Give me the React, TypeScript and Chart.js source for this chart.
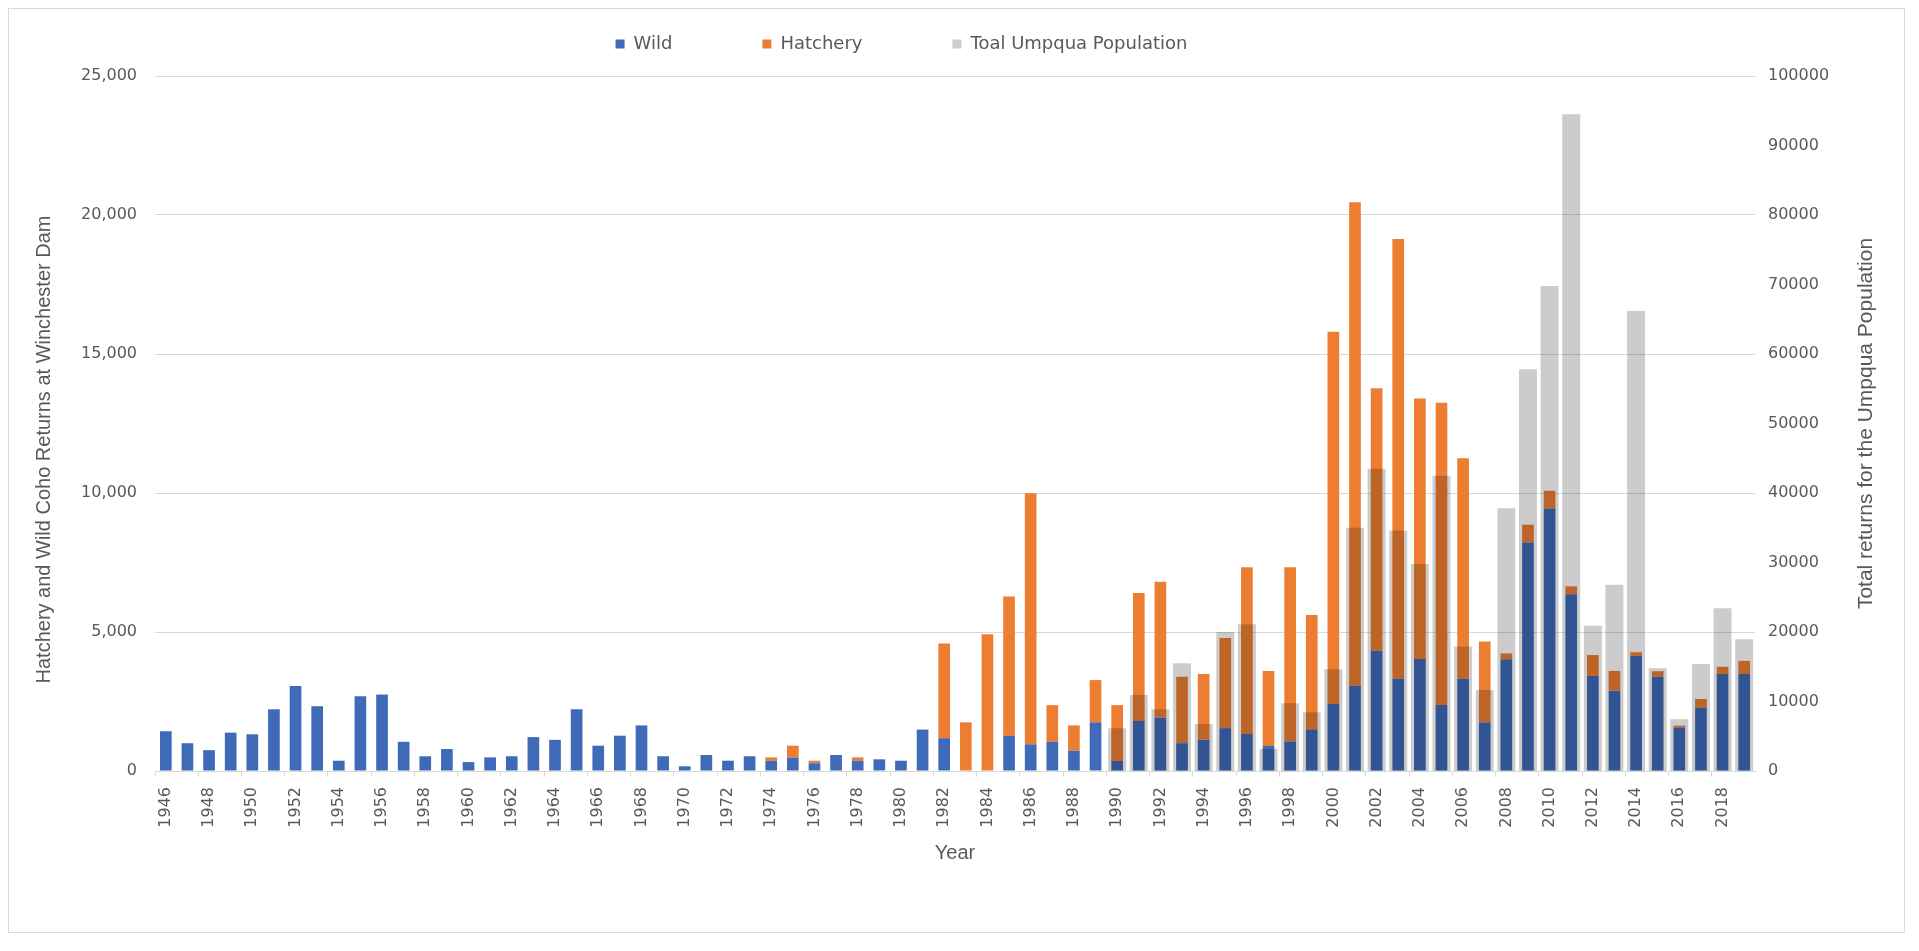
import React, { useEffect, useRef } from 'react';
import { Chart, registerables } from 'chart.js';

Chart.register(...registerables);

const years = [
  '1946', '1947', '1948', '1949', '1950', '1951', '1952', '1953', '1954', '1955',
  '1956', '1957', '1958', '1959', '1960', '1961', '1962', '1963', '1964', '1965',
  '1966', '1967', '1968', '1969', '1970', '1971', '1972', '1973', '1974', '1975',
  '1976', '1977', '1978', '1979', '1980', '1981', '1982', '1983', '1984', '1985',
  '1986', '1987', '1988', '1989', '1990', '1991', '1992', '1993', '1994', '1995',
  '1996', '1997', '1998', '1999', '2000', '2001', '2002', '2003', '2004', '2005',
  '2006', '2007', '2008', '2009', '2010', '2011', '2012', '2013', '2014', '2015',
  '2016', '2017', '2018', '2019',
];

const wild = [
  1430, 1000, 750, 1380, 1320, 2220, 3060, 2330, 370, 2690,
  2750, 1050, 530, 790, 320, 490, 530, 1220, 1120, 2220,
  910, 1270, 1640, 530, 170, 575, 370, 530, 370, 480,
  280, 575, 370, 420, 370, 1490, 1180, 0, 0, 1270,
  960, 1050, 730, 1750, 360, 1800, 1920, 1000, 1120, 1540,
  1330, 900, 1060, 1500, 2410, 3070, 4330, 3330, 4030, 2370,
  3320, 1750, 4020, 8220, 9440, 6360, 3420, 2890, 4140, 3390,
  1560, 2280, 3490, 3490,
];

const hatchery = [
  0, 0, 0, 0, 0, 0, 0, 0, 0, 0,
  0, 0, 0, 0, 0, 0, 0, 0, 0, 0,
  0, 0, 0, 0, 0, 0, 0, 0, 120, 430,
  90, 0, 120, 0, 0, 0, 3410, 1750, 4920, 5010,
  9030, 1320, 910, 1520, 2010, 4600, 4890, 2390, 2370, 3240,
  6000, 2700, 6270, 4110, 13390, 17390, 9440, 15810, 9370, 10880,
  7930, 2910, 210, 640, 640, 280, 750, 710, 130, 200,
  70, 310, 260, 470,
];

const totalUmpqua = [
  null, null, null, null, null, null, null, null, null, null,
  null, null, null, null, null, null, null, null, null, null,
  null, null, null, null, null, null, null, null, null, null,
  null, null, null, null, null, null, null, null, null, null,
  null, null, null, null, 6150, 10940, 8880, 15500, 6760, 20000,
  21100, 3170, 9740, 8440, 14630, 35000, 43500, 34600, 29800, 42500,
  17900, 11660, 37800, 57800, 69800, 94500, 20900, 26800, 66200, 14800,
  7440, 15400, 23400, 18950,
];

const seriesNames = ['Wild', 'Hatchery', 'Toal Umpqua Population'];
const leftTitle = 'Hatchery and Wild Coho Returns at Winchester Dam';
const rightTitle = 'Total returns for the Umpqua Population';
const xTitle = 'Year';

const TEXT = '#595959';
const GRID = '#d9d9d9';
const TICK_FONT = 'DejaVu Sans';
const TITLE_FONT = 'Liberation Sans';

const legendFitPlugin = {
  id: 'legendFit',
  afterInit(chart: any) {
    const lg = chart.legend;
    if (!lg || lg._patched) return;
    const orig = lg.fit;
    lg.fit = function () {
      orig.call(this);
      this.height += 13;
    };
    lg._patched = true;
  },
  afterLayout(chart: any) {
    const lg = chart.legend;
    if (lg) lg.right = lg.right - 110;
  },
};

const axisTitlesPlugin = {
  id: 'axisTitles',
  afterDraw(chart: any) {
    const { ctx, chartArea } = chart;
    const mid = (chartArea.top + chartArea.bottom) / 2;
    ctx.save();
    ctx.fillStyle = TEXT;
    ctx.textAlign = 'center';
    ctx.textBaseline = 'middle';
    // left title
    ctx.save();
    ctx.translate(35, mid + 26);
    ctx.rotate(-Math.PI / 2);
    ctx.font = `20px "${TITLE_FONT}"`;
    ctx.fillText(leftTitle, 0, 0);
    ctx.restore();
    // right title
    ctx.save();
    ctx.translate(chart.width - 38, mid);
    ctx.rotate(-Math.PI / 2);
    ctx.font = `21px "${TITLE_FONT}"`;
    ctx.fillText(rightTitle, 0, 0);
    ctx.restore();
    ctx.restore();
  },
};

export default function App() {
  const canvasRef = useRef<HTMLCanvasElement | null>(null);

  useEffect(() => {
    if (!canvasRef.current) return;
    const chart = new Chart(canvasRef.current, {
      type: 'bar',
      data: {
        labels: years,
        datasets: [
          {
            label: seriesNames[0],
            data: wild,
            backgroundColor: '#3e6ab8',
            borderWidth: 0,
            yAxisID: 'y',
            stack: 'dam',
            grouped: false,
            barPercentage: 0.54,
            categoryPercentage: 1,
            order: 1,
          },
          {
            label: seriesNames[1],
            data: hatchery,
            backgroundColor: '#ED7D31',
            borderWidth: 0,
            yAxisID: 'y',
            stack: 'dam',
            grouped: false,
            barPercentage: 0.54,
            categoryPercentage: 1,
            order: 1,
          },
          {
            label: seriesNames[2],
            data: totalUmpqua as any,
            backgroundColor: 'rgba(0,0,0,0.2)',
            borderWidth: 0,
            yAxisID: 'y1',
            stack: 'total',
            grouped: false,
            barPercentage: 0.83,
            categoryPercentage: 1,
            order: 0,
          },
        ],
      },
      options: {
        responsive: false,
        animation: false,
        events: [],
        layout: { padding: { top: -64, left: 0, right: 0, bottom: 61 } },
        plugins: {
          tooltip: { enabled: false },
          legend: {
            position: 'top',
            labels: {
              boxWidth: 9,
              boxHeight: 9,
              padding: 90,
              color: TEXT,
              font: { family: TICK_FONT, size: 18 },
              sort: (a: any, b: any) => a.datasetIndex - b.datasetIndex,
            },
          },
        },
        scales: {
          x: {
            stacked: true,
            grid: {
              display: true,
              drawOnChartArea: false,
              offset: true,
              tickLength: 6,
              color: (ctx: any) => (ctx.index % 2 === 0 ? GRID : 'rgba(0,0,0,0)'),
            },
            border: { display: true, color: GRID },
            ticks: {
              autoSkip: false,
              maxRotation: 90,
              minRotation: 90,
              padding: 10,
              color: TEXT,
              font: { family: TICK_FONT, size: 16 },
              callback: (_v: any, i: number) => (i % 2 === 0 ? years[i] : ''),
            },
            title: {
              display: true,
              text: xTitle,
              color: TEXT,
              font: { family: TITLE_FONT, size: 20 },
              padding: { top: 0, bottom: 6 },
            },
            afterFit: (s: any) => {
              s.height = 100;
            },
          },
          y: {
            type: 'linear',
            position: 'left',
            stacked: true,
            min: 0,
            max: 25000,
            grid: { color: GRID, drawTicks: false },
            border: { display: false },
            ticks: {
              stepSize: 5000,
              padding: 18,
              color: TEXT,
              font: { family: TICK_FONT, size: 16 },
              callback: (v: any) => Number(v).toLocaleString('en-US'),
            },
            afterFit: (s: any) => {
              s.width = 146;
            },
          },
          y1: {
            type: 'linear',
            position: 'right',
            min: 0,
            max: 100000,
            grid: { display: false, drawTicks: false, drawOnChartArea: false },
            border: { display: false },
            ticks: {
              stepSize: 10000,
              padding: 13,
              color: TEXT,
              font: { family: TICK_FONT, size: 16 },
              callback: (v: any) => String(v),
            },
            afterFit: (s: any) => {
              s.width = 149;
            },
          },
        },
      } as any,
      plugins: [legendFitPlugin, axisTitlesPlugin],
    });
    return () => chart.destroy();
  }, []);

  return (
    <div
      style={{
        width: 1897,
        height: 925,
        border: `1px solid ${GRID}`,
        boxSizing: 'border-box',
        background: '#fff',
      }}
    >
      <canvas ref={canvasRef} width={1895} height={923} style={{ display: 'block' }} />
    </div>
  );
}
